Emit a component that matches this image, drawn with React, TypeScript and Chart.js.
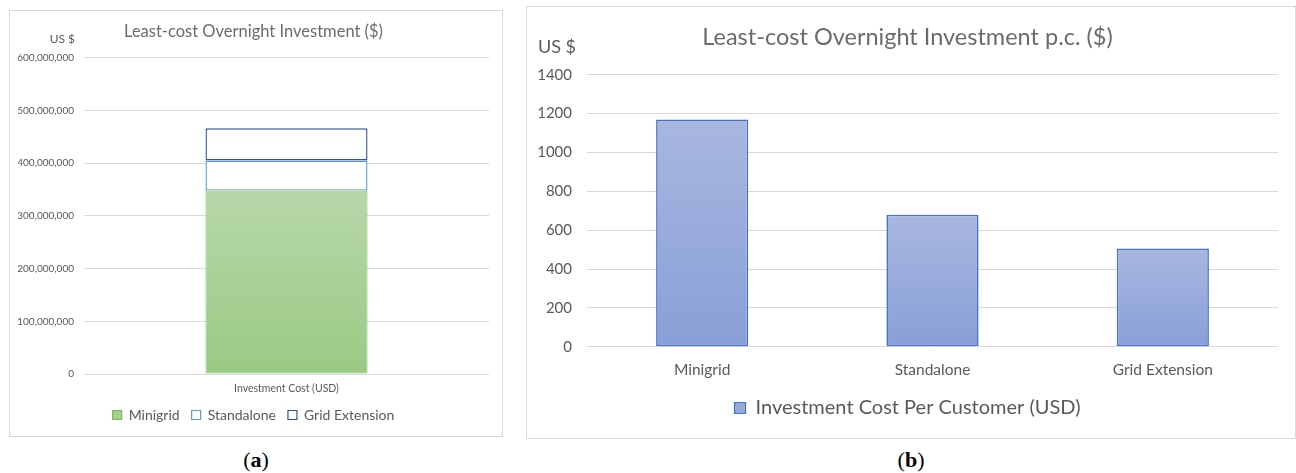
import React, { useEffect, useRef } from 'react';
import { Chart, registerables } from 'chart.js';

Chart.register(...registerables);

const FONT = 'Lato, "Open Sans", sans-serif';
const TEXT = '#595959';
const TITLE = '#6b6b6b';
const GRID = '#d9d9d9';

// ---- Panel (a): stacked total investment ----
const totalCategories = ['Investment Cost (USD)'];
const minigridInvestment = [348000000];
const standaloneInvestment = [57000000];
const gridExtensionInvestment = [61000000];
const totalTickValues = [0, 100000000, 200000000, 300000000, 400000000, 500000000, 600000000];

// ---- Panel (b): investment per customer ----
const perCustomerCategories = ['Minigrid', 'Standalone', 'Grid Extension'];
const perCustomerInvestment = [1170, 680, 505];
const perCustomerTickValues = [0, 200, 400, 600, 800, 1000, 1200, 1400];

const unitLabelPlugin = {
  id: 'unitLabel',
  afterDraw(chart: any, _args: any, opts: any) {
    if (!opts || !opts.text) return;
    const ctx = chart.ctx;
    ctx.save();
    ctx.font = `${opts.size}px ${FONT}`;
    ctx.fillStyle = opts.color;
    ctx.textAlign = 'right';
    ctx.textBaseline = 'middle';
    ctx.fillText(opts.text, opts.x, opts.y);
    ctx.restore();
  },
};

function barGradient(top: string, bottom: string) {
  return (c: any) => {
    const chart = c.chart;
    if (!chart.chartArea || c.type !== 'data') return bottom;
    const y = chart.scales.y;
    const y0 = y.getPixelForValue(0);
    const y1 = y.getPixelForValue(c.raw);
    if (!isFinite(y0) || !isFinite(y1) || y0 === y1) return bottom;
    const g = chart.ctx.createLinearGradient(0, y1, 0, y0);
    g.addColorStop(0, top);
    g.addColorStop(1, bottom);
    return g;
  };
}

function configA(): any {
  return {
    type: 'bar',
    data: {
      labels: totalCategories,
      datasets: [
        {
          label: 'Minigrid',
          data: minigridInvestment,
          backgroundColor: barGradient('#b7d8a9', '#9aca84'),
          borderColor: '#7db65d',
          borderWidth: 1,
          borderSkipped: false,
          barPercentage: 0.5,
          categoryPercentage: 0.8,
        },
        {
          label: 'Standalone',
          data: standaloneInvestment,
          backgroundColor: '#ffffff',
          borderColor: '#5b9bd5',
          borderWidth: 1.4,
          borderSkipped: false,
          barPercentage: 0.5,
          categoryPercentage: 0.8,
        },
        {
          label: 'Grid Extension',
          data: gridExtensionInvestment,
          backgroundColor: '#ffffff',
          borderColor: '#2f5597',
          borderWidth: 1.4,
          borderSkipped: false,
          barPercentage: 0.5,
          categoryPercentage: 0.8,
        },
      ],
    },
    plugins: [unitLabelPlugin],
    options: {
      responsive: false,
      animation: false,
      devicePixelRatio: 1,
      layout: { padding: { left: 8, right: 13, top: 0, bottom: 4 } },
      scales: {
        x: {
          stacked: true,
          grid: { display: false, drawTicks: false, tickLength: 0 },
          border: { display: false },
          ticks: { color: TEXT, font: { family: FONT, size: 10.5 }, padding: 8.7 },
          afterFit: (s: any) => { s.height = 22; },
        },
        y: {
          stacked: true,
          min: 0,
          max: 600000000,
          grid: { color: GRID, drawTicks: false },
          border: { display: false },
          afterBuildTicks: (s: any) => { s.ticks = totalTickValues.map((v) => ({ value: v })); },
          ticks: {
            color: TEXT,
            padding: 10,
            font: { family: FONT, size: 10 },
            callback: (v: any) => Number(v).toLocaleString('en-US'),
          },
          afterFit: (s: any) => { s.width = 66; },
        },
      },
      plugins: {
        title: {
          display: true,
          text: 'Least-cost Overnight Investment ($)',
          color: TITLE,
          font: { family: FONT, size: 16.5, weight: 'normal' },
          padding: { top: 11.1, bottom: 15.8 },
        },
        legend: {
          position: 'bottom',
          labels: {
            color: TEXT,
            font: { family: FONT, size: 14 },
            boxWidth: 9,
            boxHeight: 9,
            padding: 12,
            generateLabels: (chart: any) => {
              const items = Chart.defaults.plugins.legend.labels.generateLabels(chart);
              const fills = ['#a6d08f', '#ffffff', '#ffffff'];
              items.forEach((it: any, i: number) => { it.fillStyle = fills[i]; it.lineWidth = 1.2; });
              return items;
            },
          },
        },
        tooltip: { enabled: false },
        unitLabel: { text: 'US $', size: 12, color: TEXT, x: 65, y: 28 },
      },
    },
  };
}

function configB(): any {
  return {
    type: 'bar',
    data: {
      labels: perCustomerCategories,
      datasets: [
        {
          label: 'Investment Cost Per Customer (USD)',
          data: perCustomerInvestment,
          backgroundColor: barGradient('#a9b7e0', '#889fd7'),
          borderColor: '#4472c4',
          borderWidth: 1.6,
          borderSkipped: false,
          barPercentage: 0.5,
          categoryPercentage: 0.8,
        },
      ],
    },
    plugins: [unitLabelPlugin],
    options: {
      responsive: false,
      animation: false,
      devicePixelRatio: 1,
      layout: { padding: { left: 10, right: 17, top: 0, bottom: 10 } },
      scales: {
        x: {
          grid: { display: false, drawTicks: false, tickLength: 0 },
          border: { display: false },
          ticks: { color: TEXT, font: { family: FONT, size: 15.5 }, padding: 14 },
          afterFit: (s: any) => { s.height = 41.3; },
        },
        y: {
          min: 0,
          max: 1400,
          grid: { color: GRID, drawTicks: false },
          border: { display: false },
          afterBuildTicks: (s: any) => { s.ticks = perCustomerTickValues.map((v) => ({ value: v })); },
          ticks: {
            color: TEXT,
            padding: 15,
            font: { family: FONT, size: 15 },
            callback: (v: any) => String(v),
          },
          afterFit: (s: any) => { s.width = 50; },
        },
      },
      plugins: {
        title: {
          display: true,
          text: 'Least-cost Overnight Investment p.c. ($)',
          color: TITLE,
          font: { family: FONT, size: 23.5, weight: 'normal' },
          padding: { top: 16.4, bottom: 23.2 },
        },
        legend: {
          position: 'bottom',
          labels: {
            color: TEXT,
            font: { family: FONT, size: 20 },
            boxWidth: 11,
            boxHeight: 11,
            padding: 10,
            generateLabels: (chart: any) => {
              const items = Chart.defaults.plugins.legend.labels.generateLabels(chart);
              items.forEach((it: any) => { it.fillStyle = '#98aadc'; it.lineWidth = 1.2; });
              return items;
            },
          },
        },
        tooltip: { enabled: false },
        unitLabel: { text: 'US $', size: 18, color: TEXT, x: 49, y: 39.7 },
      },
    },
  };
}

function Panel(props: { left: number; top: number; width: number; height: number; make: () => any }) {
  const ref = useRef<HTMLCanvasElement | null>(null);
  useEffect(() => {
    const chart = new Chart(ref.current as HTMLCanvasElement, props.make());
    return () => chart.destroy();
  }, []);
  return (
    <div
      style={{
        position: 'absolute',
        left: props.left,
        top: props.top,
        width: props.width,
        height: props.height,
        border: '1px solid #d9d9d9',
        background: '#ffffff',
      }}
    >
      <canvas ref={ref} width={props.width} height={props.height} style={{ display: 'block' }} />
    </div>
  );
}

function Caption(props: { left: number; width: number; letter: string }) {
  return (
    <div
      style={{
        position: 'absolute',
        left: props.left,
        width: props.width,
        top: 447,
        textAlign: 'center',
        fontFamily: '"Liberation Serif", "DejaVu Serif", serif',
        fontSize: 22,
        lineHeight: '26px',
        color: '#000',
      }}
    >
      (<b>{props.letter}</b>)
    </div>
  );
}

export default function App() {
  return (
    <div style={{ position: 'absolute', left: 0, top: 0, width: 1296, height: 473, background: '#fff' }}>
      <Panel left={9} top={10} width={492} height={425} make={configA} />
      <Panel left={526} top={6} width={768} height={431} make={configB} />
      <Caption left={9} width={494} letter="a" />
      <Caption left={526} width={770} letter="b" />
    </div>
  );
}
